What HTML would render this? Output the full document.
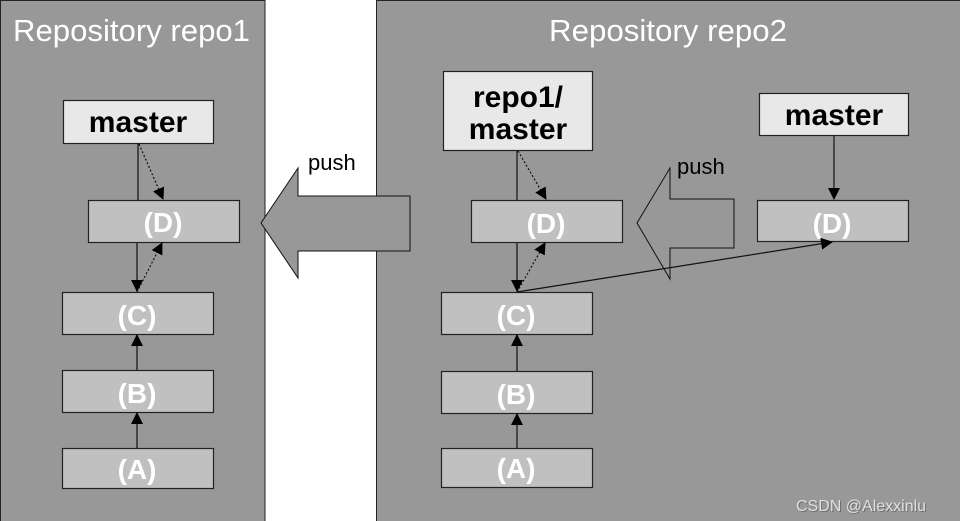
<!DOCTYPE html>
<html><head><meta charset="utf-8"><style>
html,body{margin:0;padding:0;background:#fff}
svg{display:block;font-family:"Liberation Sans",sans-serif}
</style></head><body>
<svg width="960" height="521" viewBox="0 0 960 521">
<defs>
<marker id="ah" markerWidth="12" markerHeight="16" refX="11" refY="7" orient="auto" markerUnits="userSpaceOnUse">
<path d="M0,1 L12,7 L0,13 Z" fill="#000"/></marker>
</defs>
<rect x="0" y="0" width="960" height="521" fill="#fff"/>
<rect x="0.5" y="0.5" width="264.5" height="525" fill="#989898" stroke="#222" stroke-width="1"/>
<rect x="376.5" y="0.5" width="590" height="525" fill="#989898" stroke="#222" stroke-width="1"/>
<text x="13" y="41" font-size="31" fill="#fff" textLength="237" lengthAdjust="spacingAndGlyphs">Repository repo1</text>
<text x="549" y="41" font-size="31" fill="#fff" textLength="238" lengthAdjust="spacingAndGlyphs">Repository repo2</text>

<g stroke="#222" stroke-width="1.2">
<rect x="63.5" y="100.5" width="150" height="43" fill="#e8e8e8"/>
<rect x="88.5" y="200.5" width="151" height="42" fill="#c0c0c0"/>
<rect x="62.5" y="292.5" width="151" height="42" fill="#c0c0c0"/>
<rect x="62.5" y="370.5" width="151" height="42" fill="#c0c0c0"/>
<rect x="62.5" y="448.5" width="151" height="40" fill="#c0c0c0"/>

<rect x="443.5" y="71.5" width="149" height="79" fill="#e8e8e8"/>
<rect x="471.5" y="200.5" width="151" height="42" fill="#c0c0c0"/>
<rect x="441.5" y="292.5" width="151" height="42" fill="#c0c0c0"/>
<rect x="441.5" y="371.5" width="151" height="42" fill="#c0c0c0"/>
<rect x="441.5" y="448.5" width="151" height="39" fill="#c0c0c0"/>
<rect x="759.5" y="93.5" width="149" height="42" fill="#e8e8e8"/>
<rect x="757.5" y="200.5" width="151" height="41" fill="#c0c0c0"/>
</g>

<g fill="#989898" stroke="#111" stroke-width="1">
<path d="M261,223 L298,168 L298,196 L410,196 L410,251 L298,251 L298,278 Z"/>
<path d="M637,223 L670,168 L670,199 L734,199 L734,248 L670,248 L670,279 Z"/>
</g>
<text x="308" y="170" font-size="22" fill="#000">push</text>
<text x="677" y="174" font-size="22" fill="#000">push</text>

<g font-size="30" font-weight="bold" text-anchor="middle" fill="#000">
<text x="138" y="132">master</text>
<text x="518" y="107">repo1/</text>
<text x="518" y="139">master</text>
<text x="834" y="125">master</text>
</g>
<g font-size="28" font-weight="bold" text-anchor="middle" fill="#fff">
<text x="163" y="232">(D)</text>
<text x="137" y="325">(C)</text>
<text x="137" y="403">(B)</text>
<text x="137" y="479">(A)</text>
<text x="546" y="233">(D)</text>
<text x="516" y="325">(C)</text>
<text x="516" y="404">(B)</text>
<text x="516" y="478">(A)</text>
<text x="832" y="233">(D)</text>
</g>

<g stroke="#111" stroke-width="1.2" fill="none">
<line x1="138" y1="144" x2="138" y2="200"/>
<line x1="139" y1="144" x2="163" y2="199" stroke-dasharray="2,2" marker-end="url(#ah)"/>
<line x1="137" y1="243" x2="137" y2="291" marker-end="url(#ah)"/>
<line x1="137" y1="292" x2="162" y2="243" stroke-dasharray="2,2" marker-end="url(#ah)"/>
<line x1="137" y1="370" x2="137" y2="335" marker-end="url(#ah)"/>
<line x1="137" y1="448" x2="137" y2="413" marker-end="url(#ah)"/>

<line x1="517" y1="151" x2="517" y2="200"/>
<line x1="518" y1="151" x2="546" y2="199" stroke-dasharray="2,2" marker-end="url(#ah)"/>
<line x1="517" y1="243" x2="517" y2="291" marker-end="url(#ah)"/>
<line x1="517" y1="292" x2="545" y2="243" stroke-dasharray="2,2" marker-end="url(#ah)"/>
<line x1="517" y1="292" x2="832" y2="242" marker-end="url(#ah)"/>
<line x1="517" y1="371" x2="517" y2="335" marker-end="url(#ah)"/>
<line x1="517" y1="448" x2="517" y2="414" marker-end="url(#ah)"/>
<line x1="834" y1="136" x2="834" y2="199" marker-end="url(#ah)"/>
</g>

<text x="796" y="511" font-size="16" fill="#555" opacity="0.6" transform="translate(1,1)">CSDN @Alexxinlu</text>
<text x="796" y="511" font-size="16" fill="#e0e0e0">CSDN @Alexxinlu</text>
</svg>
</body></html>
